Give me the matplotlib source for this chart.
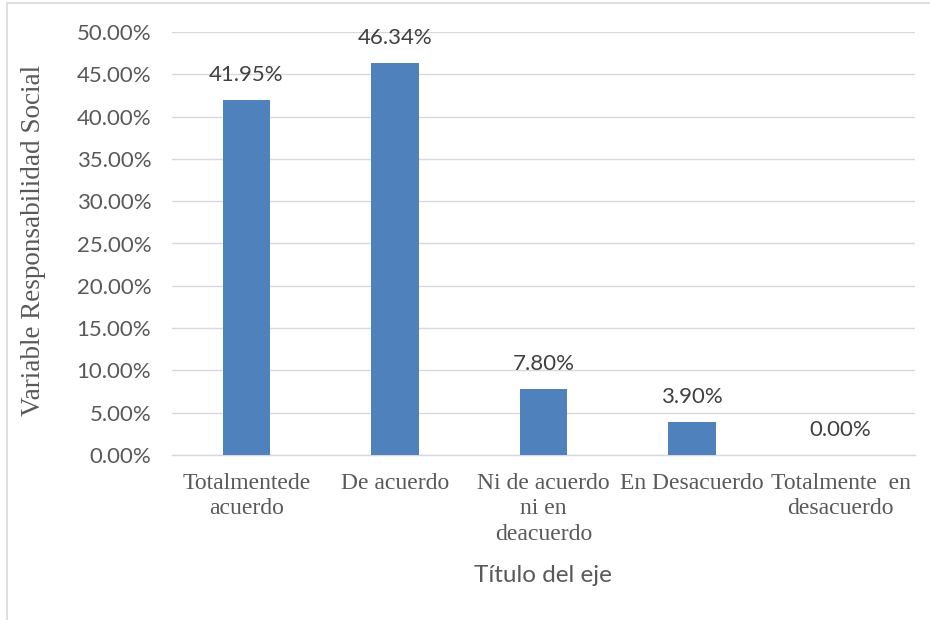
import matplotlib
matplotlib.use("Agg")
import matplotlib.pyplot as plt
from matplotlib.patches import Rectangle

categories = ["Totalmentede\nacuerdo", "De acuerdo", "Ni de acuerdo\nni en\ndeacuerdo",
              "En Desacuerdo", "Totalmente  en\ndesacuerdo"]
values = [41.95, 46.34, 7.80, 3.90, 0.00]
yticks = [0, 5, 10, 15, 20, 25, 30, 35, 40, 45, 50]

fig = plt.figure(figsize=(9.3, 6.2), dpi=100)
ax = fig.add_axes([172/930, 1-455/620, (915-172)/930, (455-32)/620])

# outer chart border (light grey)
fig.patches.append(Rectangle((7/930, -0.1), 1.2, (1-3/620)+0.1, transform=fig.transFigure,
                             fill=False, edgecolor="#d9d9d9", linewidth=1.2))

x = list(range(len(categories)))
ax.bar(x, values, width=0.32, color="#4F81BD", zorder=3)
ax.set_xlim(-0.5, len(categories)-0.5)
ax.set_ylim(0, 50)
ax.set_yticks(yticks)
ax.set_yticklabels([f"{v:.2f}%" for v in yticks], family="Lato", fontsize=16, color="#595959")
ax.set_xticks(x)
ax.set_xticklabels(categories, family="Liberation Serif", fontsize=17, color="#595959",
                   linespacing=1.27)
ax.tick_params(axis="y", length=0, pad=15)
ax.tick_params(axis="x", length=0, pad=13)
ax.grid(axis="y", color="#d9d9d9", linewidth=1, zorder=0)
for s in ["top", "right", "left"]:
    ax.spines[s].set_visible(False)
ax.spines["bottom"].set_color("#d9d9d9")
ax.spines["bottom"].set_linewidth(1)

for xi, v in zip(x, values):
    ax.annotate(f"{v:.2f}%", (xi, v), xytext=(0, 18), textcoords="offset points",
                ha="center", va="center", family="Lato", fontsize=16, color="#404040")

fig.text(33/930, 1-240/620, "Variable Responsabilidad Social", family="Liberation Serif",
         fontsize=19.5, color="#595959", rotation=90, ha="center", va="center")
fig.text(543/930, 1-576/620, "Título del eje", family="Lato", fontsize=17.5,
         color="#595959", ha="center", va="center")

fig.savefig("out.png", dpi=100)
